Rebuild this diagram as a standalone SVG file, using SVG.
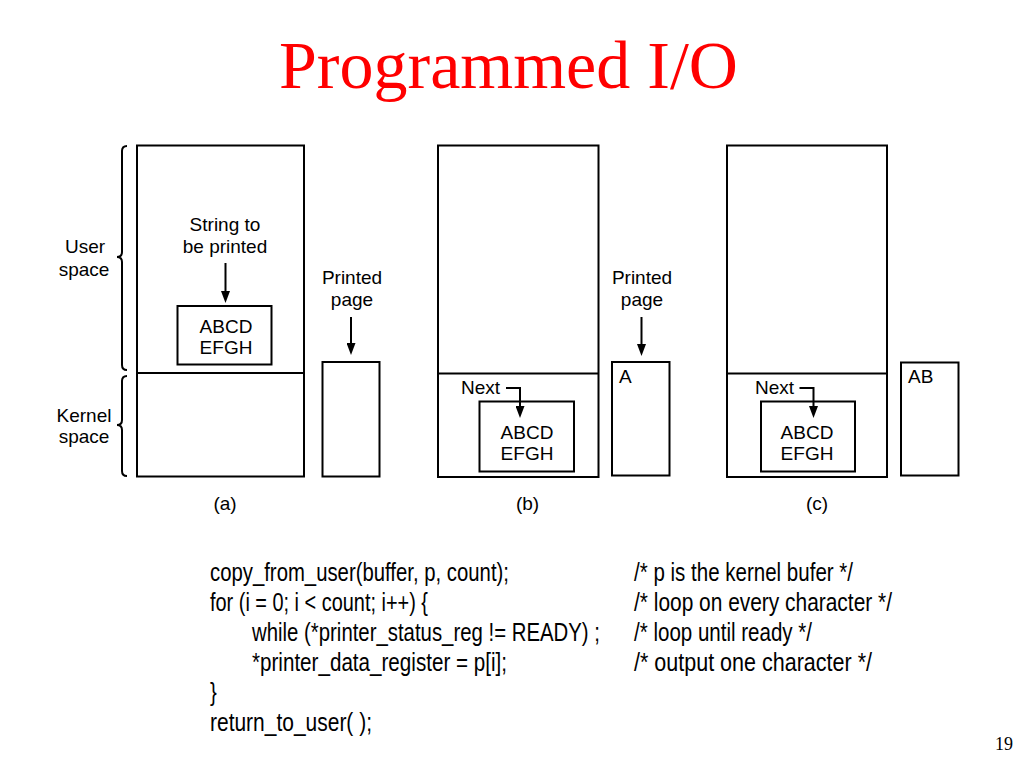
<svg xmlns="http://www.w3.org/2000/svg" width="1024" height="768" viewBox="0 0 1024 768">
<style>
.box{fill:none;stroke:#000;stroke-width:2}
.conn{fill:none;stroke:#000;stroke-width:2}
.lbl{font-family:"Liberation Sans",Arial,sans-serif;font-size:19px;fill:#000}
.mid{text-anchor:middle}
.code{font-family:"Liberation Sans",Arial,sans-serif;font-size:25px;fill:#000}
.title{font-family:"Liberation Serif","Times New Roman",serif;font-size:68px;fill:#ff0000;text-anchor:middle}
</style>
<defs>
<marker id="ah" viewBox="0 0 12 9" refX="2" refY="4.5" markerWidth="12" markerHeight="9" markerUnits="userSpaceOnUse" orient="auto">
<path d="M0,0 L12,4.5 L0,9 z" fill="#000"/>
</marker>
</defs>
<rect width="1024" height="768" fill="#fff"/>
<text id="title" class="title" x="508.5" y="88">Programmed I/O</text>

<g id="braces">
<path class="conn" d="M127,146 Q122,146 122,151 V252 Q122,257 117,257 Q122,257 122,262 V365 Q122,370 127,370"/>
<path class="conn" d="M127,376 Q122,376 122,381 V420 Q122,425 117,425 Q122,425 122,430 V471 Q122,476 127,476"/>
<text class="lbl mid" x="85" y="253">User</text>
<text class="lbl mid" x="84" y="276">space</text>
<text class="lbl mid" x="84" y="422">Kernel</text>
<text class="lbl mid" x="84" y="443">space</text>
</g>

<g id="memory-a">
<rect class="box" x="137" y="145.5" width="167" height="331"/>
<line class="box" x1="137" y1="373" x2="304" y2="373"/>
<text class="lbl mid" x="225" y="231">String to</text>
<text class="lbl mid" x="225" y="253">be printed</text>
</g>
<g id="buffer-a">
<rect class="box" x="177.5" y="306" width="94" height="58.5"/>
<text class="lbl mid" x="226" y="333">ABCD</text>
<text class="lbl mid" x="226" y="354">EFGH</text>
</g>
<g id="page-a">
<rect class="box" x="322.5" y="362" width="57" height="114.5"/>
<text class="lbl mid" x="352" y="284">Printed</text>
<text class="lbl mid" x="352" y="306">page</text>
</g>
<text id="label-a" class="lbl mid" x="225" y="510">(a)</text>

<g id="memory-b">
<rect class="box" x="438" y="145.5" width="160.5" height="331.5"/>
<line class="box" x1="438" y1="373.5" x2="598.5" y2="373.5"/>
<text class="lbl" x="461" y="394">Next</text>
</g>
<g id="buffer-b">
<rect class="box" x="479.5" y="401.5" width="94.5" height="70"/>
<text class="lbl mid" x="527" y="438.5">ABCD</text>
<text class="lbl mid" x="527" y="460">EFGH</text>
</g>
<g id="page-b">
<rect class="box" x="612" y="362" width="57.5" height="113.5"/>
<text class="lbl" x="619" y="383">A</text>
<text class="lbl mid" x="642" y="284">Printed</text>
<text class="lbl mid" x="642" y="306">page</text>
</g>
<text id="label-b" class="lbl mid" x="527.5" y="510">(b)</text>

<g id="memory-c">
<rect class="box" x="727" y="145.5" width="160" height="331.5"/>
<line class="box" x1="727" y1="373.5" x2="887" y2="373.5"/>
<text class="lbl" x="755" y="394">Next</text>
</g>
<g id="buffer-c">
<rect class="box" x="761" y="401.5" width="94" height="70"/>
<text class="lbl mid" x="807" y="438.5">ABCD</text>
<text class="lbl mid" x="807" y="460">EFGH</text>
</g>
<g id="page-c">
<rect class="box" x="901" y="362.5" width="57.5" height="113"/>
<text class="lbl" x="908" y="383">AB</text>
</g>
<text id="label-c" class="lbl mid" x="817" y="510">(c)</text>

<g id="connectors">
<line class="conn" x1="225.5" y1="263" x2="225.5" y2="293" marker-end="url(#ah)"/>
<line class="conn" x1="351" y1="317" x2="351" y2="345" marker-end="url(#ah)"/>
<line class="conn" x1="641.5" y1="317" x2="641.5" y2="346" marker-end="url(#ah)"/>
<path class="conn" d="M506,388 H520 V408" marker-end="url(#ah)"/>
<path class="conn" d="M799.5,388 H813.5 V408" marker-end="url(#ah)"/>
</g>

<g id="code" transform="scale(0.81,1)">
<text class="code" x="259.26" y="581" textLength="369.1" lengthAdjust="spacingAndGlyphs">copy_from_user(buffer, p, count);</text>
<text class="code" x="259.26" y="611" textLength="269.1" lengthAdjust="spacingAndGlyphs">for (i = 0; i &lt; count; i++) {</text>
<text class="code" x="311.11" y="641" textLength="429.6" lengthAdjust="spacingAndGlyphs">while (*printer_status_reg != READY) ;</text>
<text class="code" x="311.11" y="671" textLength="314.8" lengthAdjust="spacingAndGlyphs">*printer_data_register = p[i];</text>
<text class="code" x="259.26" y="701">}</text>
<text class="code" x="259.26" y="731" textLength="200" lengthAdjust="spacingAndGlyphs">return_to_user( );</text>
<text class="code" x="782.72" y="581" textLength="270.4" lengthAdjust="spacingAndGlyphs">/* p is the kernel bufer */</text>
<text class="code" x="782.72" y="611" textLength="318.5" lengthAdjust="spacingAndGlyphs">/* loop on every character */</text>
<text class="code" x="782.72" y="641" textLength="219.8" lengthAdjust="spacingAndGlyphs">/* loop until ready */</text>
<text class="code" x="782.72" y="671" textLength="293.8" lengthAdjust="spacingAndGlyphs">/* output one character */</text>
</g>

<text id="page-number" x="995" y="750" font-family="Liberation Serif,'Times New Roman',serif" font-size="18" fill="#000">19</text>
</svg>
